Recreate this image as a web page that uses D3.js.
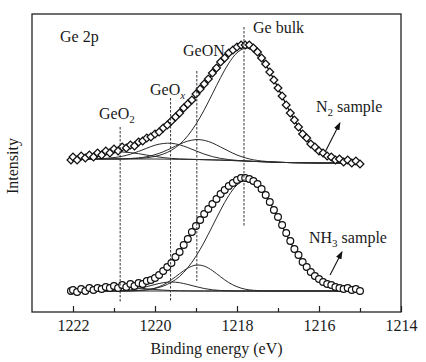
<!DOCTYPE html>
<html>
<head>
<meta charset="utf-8">
<script src="https://cdn.jsdelivr.net/npm/d3@7/dist/d3.min.js"></script>
<style>
body { margin: 0; background: #fff; }
text { font-family: "Liberation Serif", "Times New Roman", serif; fill: #1a1a1a; }
</style>
</head>
<body>
<svg width="426" height="362"></svg>
<script>
// measured points, both samples share the same energy grid (eV)
var dataEnergy = [1222.05, 1222.0, 1221.9, 1221.8, 1221.7, 1221.6, 1221.5, 1221.4, 1221.3, 1221.2,
  1221.1, 1221.0, 1220.9, 1220.8, 1220.7, 1220.6, 1220.5, 1220.4, 1220.3, 1220.2,
  1220.1, 1220.0, 1219.9, 1219.8, 1219.7, 1219.6, 1219.5, 1219.4, 1219.3, 1219.2,
  1219.1, 1219.0, 1218.9, 1218.8, 1218.7, 1218.6, 1218.5, 1218.4, 1218.3, 1218.2,
  1218.1, 1218.0, 1217.9, 1217.8, 1217.7, 1217.6, 1217.5, 1217.4, 1217.3, 1217.2,
  1217.1, 1217.0, 1216.9, 1216.8, 1216.7, 1216.6, 1216.5, 1216.4, 1216.3, 1216.2,
  1216.1, 1216.0, 1215.9, 1215.8, 1215.7, 1215.6, 1215.5, 1215.4, 1215.3, 1215.2,
  1215.1, 1215.0];

var n2Counts = [152, 155, 152, 156, 154, 157, 155, 159, 157, 161,
  159, 163, 161, 165, 164, 167, 166, 170, 171, 174,
  175, 178, 180, 184, 187, 191, 195, 199, 204, 208,
  212, 218, 223, 228, 233, 239, 244, 250, 254, 259,
  262, 265, 267, 267, 267, 264, 260, 254, 248, 240,
  232, 224, 216, 207, 199, 192, 185, 178, 174, 168,
  165, 161, 159, 156, 155, 152, 153, 150, 152, 149,
  151, 148];

var nh3Counts = [21, 22, 20, 23, 21, 24, 22, 24, 23, 25,
  24, 26, 24, 27, 25, 28, 26, 29, 28, 31,
  32, 34, 37, 41, 45, 49, 55, 60, 67, 73,
  80, 86, 92, 98, 103, 108, 113, 118, 122, 126,
  129, 132, 134, 134, 133, 131, 128, 123, 117, 110,
  102, 95, 87, 79, 71, 63, 57, 50, 45, 40,
  36, 33, 30, 28, 27, 25, 24, 23, 24, 22,
  23, 21];

// fitted curves, 0.2 eV grid
var fitEnergy = [1222.0, 1221.8, 1221.6, 1221.4, 1221.2, 1221.0, 1220.8, 1220.6, 1220.4, 1220.2,
  1220.0, 1219.8, 1219.6, 1219.4, 1219.2, 1219.0, 1218.8, 1218.6, 1218.4, 1218.2,
  1218.0, 1217.8, 1217.6, 1217.4, 1217.2, 1217.0, 1216.8, 1216.6, 1216.4, 1216.2,
  1216.0, 1215.8, 1215.6, 1215.4, 1215.2, 1215.0];

var n2Background = [153, 153, 153, 153, 153, 153, 153, 153, 153, 153,
  153, 152.9, 152.8, 152.7, 152.6, 152.5, 152.3, 152.1, 151.9, 151.6,
  151.3, 151, 150.6, 150.3, 150, 149.7, 149.5, 149.3, 149.2, 149.1,
  149, 149, 149, 149, 149, 149];
var n2Envelope = [154.1, 155.0, 156.3, 157.8, 159.5, 161.3, 162.9, 165.0, 167.6, 171.3,
  176.3, 182.3, 189.5, 197.6, 206.6, 216.5, 227.1, 238.3, 249.2, 258.8,
  265.2, 267.1, 263.3, 254.2, 240.6, 224.2, 207.3, 191.6, 178.4, 168.1,
  160.6, 155.7, 152.6, 150.9, 149.9, 149.4];
// component heights above background
var n2Bulk = [0, 0, 0, 0, 0, 0, 0, 0.3, 0.6, 1.3,
  2.6, 5.0, 8.9, 14.9, 23.7, 35.4, 49.8, 66.0, 82.5, 97.2,
  107.9, 112.8, 111.1, 103.2, 90.3, 74.4, 57.8, 42.3, 29.2, 19.0,
  11.6, 6.7, 3.6, 1.9, 0.9, 0.4];
var n2GeON = [0, 0, 0, 0, 0, 0.1, 0.2, 0.5, 1.1, 2.3,
  4.3, 7.3, 11.1, 15.1, 18.3, 19.9, 19.4, 16.9, 13.1, 9.2,
  5.7, 3.2, 1.6, 0.7, 0.3, 0.1, 0, 0, 0, 0,
  0, 0, 0, 0, 0, 0];
var n2GeOx = [0, 0, 0.1, 0.2, 0.6, 1.4, 2.7, 4.8, 7.6, 10.8,
  13.8, 15.6, 15.9, 14.5, 11.8, 8.6, 5.6, 3.3, 1.7, 0.8,
  0.3, 0.1, 0, 0, 0, 0, 0, 0, 0, 0,
  0, 0, 0, 0, 0, 0];
var n2GeO2 = [1.1, 2.0, 3.2, 4.6, 5.9, 6.8, 7.0, 6.4, 5.3, 3.9,
  2.6, 1.5, 0.8, 0.4, 0.2, 0.1, 0, 0, 0, 0,
  0, 0, 0, 0, 0, 0, 0, 0, 0, 0,
  0, 0, 0, 0, 0, 0];

var nh3Background = [21, 21, 21, 21, 21, 21, 21, 21, 21, 21,
  21, 21, 21, 21, 21, 21, 21, 21, 21, 21,
  21, 21, 21, 21, 21, 21, 21, 21, 21, 21,
  21, 21, 21, 21, 21, 21];
var nh3Envelope = [21.6, 22.1, 22.8, 23.6, 24.4, 25.1, 25.5, 26.2, 27.5, 30.0,
  34.5, 41.2, 50.4, 61.4, 73.8, 86.1, 97.3, 107.4, 116.7, 125.1,
  131.3, 133.6, 130.8, 122.5, 109.7, 94.1, 77.8, 62.5, 49.7, 39.7,
  32.4, 27.6, 24.5, 22.9, 21.9, 21.4];
var nh3Bulk = [0, 0, 0, 0, 0, 0, 0, 0.3, 0.6, 1.3,
  2.6, 4.9, 8.7, 14.6, 23.3, 34.8, 48.9, 64.8, 81.0, 95.5,
  106.0, 110.8, 109.1, 101.3, 88.7, 73.1, 56.8, 41.5, 28.7, 18.7,
  11.4, 6.6, 3.5, 1.9, 0.9, 0.4];
var nh3GeON = [0, 0, 0, 0, 0, 0, 0, 0, 0.4, 1.1,
  2.9, 6.1, 11.2, 17.3, 22.9, 25.9, 24.9, 20.4, 14.2, 8.4,
  4.3, 1.8, 0.7, 0.2, 0, 0, 0, 0, 0, 0,
  0, 0, 0, 0, 0, 0];
var nh3GeOx = [0, 0, 0, 0, 0, 0.2, 0.5, 1.2, 2.5, 4.4,
  6.5, 8.3, 9.0, 8.3, 6.5, 4.4, 2.5, 1.2, 0.5, 0.2,
  0, 0, 0, 0, 0, 0, 0, 0, 0, 0,
  0, 0, 0, 0, 0, 0];
var nh3GeO2 = [0.6, 1.1, 1.8, 2.6, 3.4, 3.9, 4.0, 3.7, 3.0, 2.2,
  1.5, 0.9, 0.5, 0.2, 0.1, 0, 0, 0, 0, 0,
  0, 0, 0, 0, 0, 0, 0, 0, 0, 0,
  0, 0, 0, 0, 0, 0];

// dashed reference lines: energy, top and bottom intensity
var refEnergy = [1220.85, 1219.62, 1218.98, 1217.83];
var refTop = [185, 214, 241, 285];
var refBottom = [9, 11, 31, 85];

var majorTicks = [1222, 1220, 1218, 1216, 1214];
var minorTicks = [1221, 1219, 1217, 1215];

var svg = d3.select('svg');
var box = {l: 32, r: 401, t: 14, b: 312};

var x = d3.scaleLinear().domain([1223, 1214]).range([box.l, box.r]);
var y = d3.scaleLinear().domain([0, 298]).range([box.b, box.t]);

var fitLine = d3.line()
  .x(d => x(d[0]))
  .y(d => y(d[1]))
  .curve(d3.curveCatmullRom);

function drawFit(bg, env, comps) {
  var g = svg.append('g');
  comps.forEach(function(c) {
    g.append('path')
      .attr('d', fitLine(fitEnergy.map((e, i) => [e, bg[i] + c[i]])))
      .attr('fill', 'none').attr('stroke', '#2a2a2a').attr('stroke-width', 1);
  });
  g.append('path')
    .attr('d', fitLine(d3.zip(fitEnergy, bg)))
    .attr('fill', 'none').attr('stroke', '#2a2a2a').attr('stroke-width', 1);
  g.append('path')
    .attr('d', fitLine(d3.zip(fitEnergy, env)))
    .attr('fill', 'none').attr('stroke', '#111').attr('stroke-width', 1.1);
}

drawFit(n2Background, n2Envelope, [n2Bulk, n2GeON, n2GeOx, n2GeO2]);
drawFit(nh3Background, nh3Envelope, [nh3Bulk, nh3GeON, nh3GeOx, nh3GeO2]);

// N2 sample: open diamonds
svg.append('g').selectAll('path')
  .data(d3.zip(dataEnergy, n2Counts))
  .join('path')
  .attr('d', d3.symbol(d3.symbolSquare, 30))
  .attr('transform', d => 'translate(' + x(d[0]) + ',' + y(d[1]) + ') rotate(45)')
  .attr('fill', '#fff')
  .attr('stroke', '#111')
  .attr('stroke-width', 1.3);

// NH3 sample: open circles
svg.append('g').selectAll('circle')
  .data(d3.zip(dataEnergy, nh3Counts))
  .join('circle')
  .attr('cx', d => x(d[0]))
  .attr('cy', d => y(d[1]))
  .attr('r', 3.4)
  .attr('fill', '#fff')
  .attr('stroke', '#111')
  .attr('stroke-width', 1.2);

// dashed peak positions
svg.append('g').selectAll('line')
  .data(refEnergy)
  .join('line')
  .attr('x1', d => x(d)).attr('x2', d => x(d))
  .attr('y1', (d, i) => y(refTop[i]))
  .attr('y2', (d, i) => y(refBottom[i]))
  .attr('stroke', '#333')
  .attr('stroke-width', 1)
  .attr('stroke-dasharray', '2.5,1.5');

// frame
svg.append('rect')
  .attr('x', box.l).attr('y', box.t)
  .attr('width', box.r - box.l).attr('height', box.b - box.t)
  .attr('fill', 'none').attr('stroke', '#222').attr('stroke-width', 1.3);

var xAxis = svg.append('g')
  .attr('transform', 'translate(0,' + box.b + ')')
  .call(d3.axisBottom(x).tickValues(majorTicks).tickSizeInner(-6).tickSizeOuter(0)
    .tickPadding(8).tickFormat(d3.format('d')));
xAxis.select('.domain').remove();
xAxis.selectAll('line').attr('stroke', '#222').attr('stroke-width', 1.2);
xAxis.selectAll('text').attr('font-size', 16).attr('font-family', null).attr('fill', null);

var xMinor = svg.append('g')
  .attr('transform', 'translate(0,' + box.b + ')')
  .call(d3.axisBottom(x).tickValues(minorTicks).tickSizeInner(-4).tickSizeOuter(0).tickFormat(''));
xMinor.select('.domain').remove();
xMinor.selectAll('line').attr('stroke', '#222').attr('stroke-width', 1.2);

// axis titles
svg.append('text')
  .attr('x', (box.l + box.r) / 2).attr('y', 354)
  .attr('text-anchor', 'middle').attr('font-size', 16)
  .text('Binding energy (eV)');

svg.append('text')
  .attr('transform', 'translate(18,166) rotate(-90)')
  .attr('text-anchor', 'middle').attr('font-size', 16)
  .text('Intensity');

// labels
function label(px, py, main, sub, after) {
  var t = svg.append('text').attr('x', px).attr('y', py).attr('font-size', 16);
  t.append('tspan').text(main);
  if (sub) t.append('tspan').attr('dy', 4).attr('font-size', 11).text(sub);
  if (after) t.append('tspan').attr('dy', sub ? -4 : 0).text(after);
  return t;
}
label(60, 42, 'Ge 2p');
label(99, 119, 'GeO', '2');
label(150, 95, 'GeO', 'x').select('tspan:nth-child(2)').attr('font-style', 'italic');
label(183, 56, 'GeON');
label(253, 33, 'Ge bulk');
label(316, 112, 'N', '2', ' sample');
label(309, 243, 'NH', '3', ' sample');

// arrows
svg.append('defs').append('marker')
  .attr('id', 'head')
  .attr('viewBox', '0 0 8 6')
  .attr('refX', 7).attr('refY', 3)
  .attr('markerWidth', 8).attr('markerHeight', 6)
  .attr('markerUnits', 'userSpaceOnUse')
  .attr('orient', 'auto')
  .append('path').attr('d', 'M0,0L8,3L0,6Z').attr('fill', '#111');

var arrows = [
  [[1215.85, 160], [1215.49, 189]],
  [[1215.73, 37], [1215.44, 60]]
];
svg.append('g').selectAll('line')
  .data(arrows)
  .join('line')
  .attr('x1', d => x(d[0][0])).attr('y1', d => y(d[0][1]))
  .attr('x2', d => x(d[1][0])).attr('y2', d => y(d[1][1]))
  .attr('stroke', '#111').attr('stroke-width', 1.1)
  .attr('marker-end', 'url(#head)');
</script>
</body>
</html>
